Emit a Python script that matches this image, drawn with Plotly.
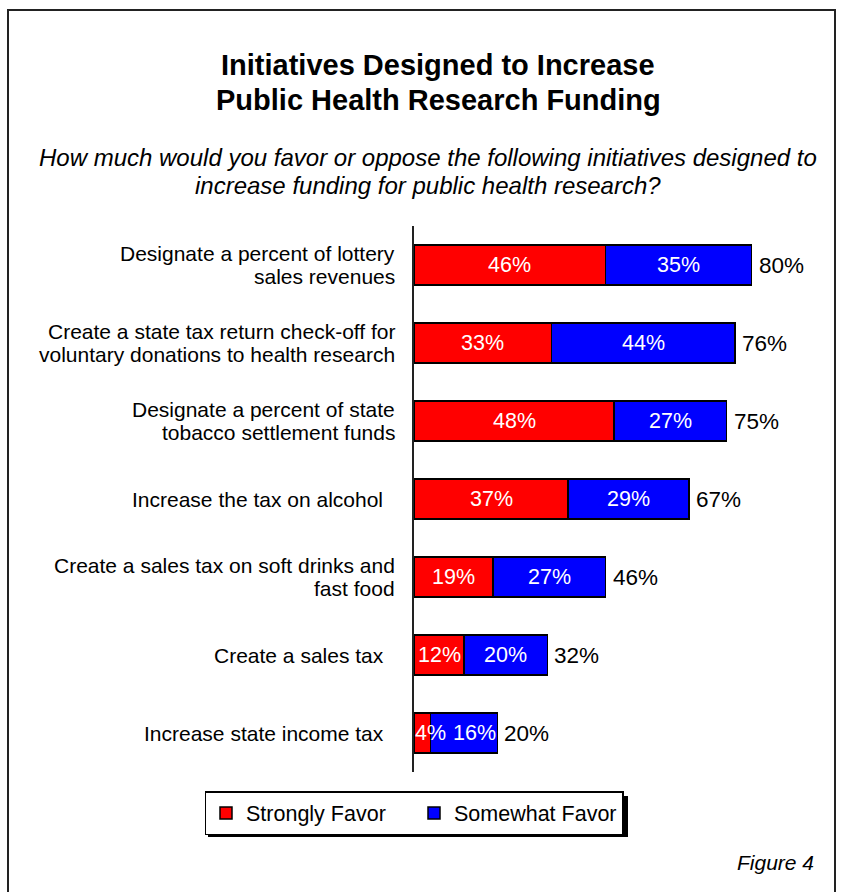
import plotly.graph_objects as go

categories = [
    "Designate a percent of lottery<br>sales revenues",
    "Create a state tax return check-off for<br>voluntary donations to health research",
    "Designate a percent of state<br>tobacco settlement funds",
    "Increase the tax on alcohol  ",
    "Create a sales tax on soft drinks and<br>fast food",
    "Create a sales tax  ",
    "Increase state income tax  ",
]
strongly = [46, 33, 48, 37, 19, 12, 4]
somewhat = [35, 44, 27, 29, 27, 20, 16]
totals = [80, 76, 75, 67, 46, 32, 20]
series_names = ["Strongly Favor", "Somewhat Favor"]

W, H = 844, 892
L, R, T, B = 414, 0, 226, 120
PW, PH = W - L - R, H - T - B
PX_PER_PCT = 400 / 96.0
XMAX = PW / PX_PER_PCT


def px2x(px):
    return (px - L) / PW


def py2y(py):
    return (H - B - py) / PH


fig = go.Figure()
fig.add_trace(go.Bar(
    y=categories, x=strongly, orientation="h", name=series_names[0],
    marker=dict(color="#ff0000", line=dict(color="black", width=1.5)),
))
fig.add_trace(go.Bar(
    y=categories, x=somewhat, orientation="h", name=series_names[1],
    marker=dict(color="#0000ff", line=dict(color="black", width=1.5)),
))

ann = []
for c, s, m, t in zip(categories, strongly, somewhat, totals):
    narrow = s * PX_PER_PCT < 30
    if narrow:
        ann.append(dict(x=0, y=c, xref="x", yref="y", text=f"{s}%", showarrow=False,
                        font=dict(family="Arial", size=21.5, color="white"),
                        xanchor="left", xshift=-1))
        ann.append(dict(x=s + m, y=c, xref="x", yref="y", text=f"{m}%", showarrow=False,
                        font=dict(family="Arial", size=21.5, color="white"),
                        xanchor="right", xshift=1))
    else:
        ann.append(dict(x=s / 2, y=c, xref="x", yref="y", text=f"{s}%", showarrow=False,
                        font=dict(family="Arial", size=21.5, color="white"), xanchor="center"))
        ann.append(dict(x=s + m / 2, y=c, xref="x", yref="y", text=f"{m}%", showarrow=False,
                        font=dict(family="Arial", size=21.5, color="white"), xanchor="center"))
    ann.append(dict(x=s + m, y=c, xref="x", yref="y", text=f"{t}%", showarrow=False,
                    font=dict(family="Arial", size=22.5, color="black"), xanchor="left", xshift=5))
    lines = c.split("<br>")
    n = len(lines)
    for i, ln in enumerate(lines):
        off = (i - (n - 1) / 2) * 23
        ann.append(dict(x=px2x(397), y=c, xref="paper", yref="y", text=ln, showarrow=False,
                        font=dict(family="Arial", size=21, color="black"),
                        xanchor="right", yanchor="middle", yshift=-off))

title_lines = ["Initiatives Designed to Increase", "Public Health Research Funding"]
for ln, py in zip(title_lines, [65, 100]):
    ann.append(dict(x=px2x(438), y=py2y(py), xref="paper", yref="paper",
                    text=f"<b>{ln}</b>", showarrow=False,
                    font=dict(family="Arial", size=29, color="black"),
                    xanchor="center", yanchor="middle"))
sub_lines = ["How much would you favor or oppose the following initiatives designed to",
             "increase funding for public health research?"]
for ln, py in zip(sub_lines, [157, 185]):
    ann.append(dict(x=px2x(428), y=py2y(py), xref="paper", yref="paper",
                    text=f"<i>{ln}</i>", showarrow=False,
                    font=dict(family="Arial", size=24, color="black"),
                    xanchor="center", yanchor="middle"))
ann.append(dict(x=px2x(816), y=py2y(862), xref="paper", yref="paper",
                text="<i>Figure 4</i>", showarrow=False,
                font=dict(family="Arial", size=21, color="black"),
                xanchor="right", yanchor="middle"))

shapes = [
    dict(type="rect", xref="paper", yref="paper",
         x0=px2x(8), x1=px2x(835), y0=py2y(10), y1=py2y(910),
         line=dict(color="#222222", width=2), fillcolor="rgba(0,0,0,0)", layer="below"),
    dict(type="rect", xref="paper", yref="paper",
         x0=px2x(208), x1=px2x(628), y0=py2y(796), y1=py2y(837),
         line=dict(width=0), fillcolor="black", layer="below"),
]

fig.update_layout(
    barmode="stack",
    width=W, height=H,
    margin=dict(l=L, r=R, t=T, b=B, autoexpand=False),
    paper_bgcolor="white", plot_bgcolor="white",
    bargap=0.49,
    font=dict(family="Arial", color="black"),
    xaxis=dict(range=[0, XMAX], showgrid=False, showticklabels=False, zeroline=False,
               showline=False, fixedrange=True),
    yaxis=dict(autorange="reversed", showgrid=False, showline=True, linecolor="#222222",
               linewidth=2, ticks="", showticklabels=False),
    legend=dict(orientation="h", x=px2x(414), xanchor="center", y=py2y(791), yanchor="top",
                bordercolor="black", borderwidth=1.5, bgcolor="white",
                font=dict(family="Arial", size=21.5, color="black"),
                itemwidth=30, entrywidth=163, entrywidthmode="pixels",
                traceorder="normal"),
    annotations=ann,
    shapes=shapes,
    showlegend=True,
)

fig.write_html("out.html")
